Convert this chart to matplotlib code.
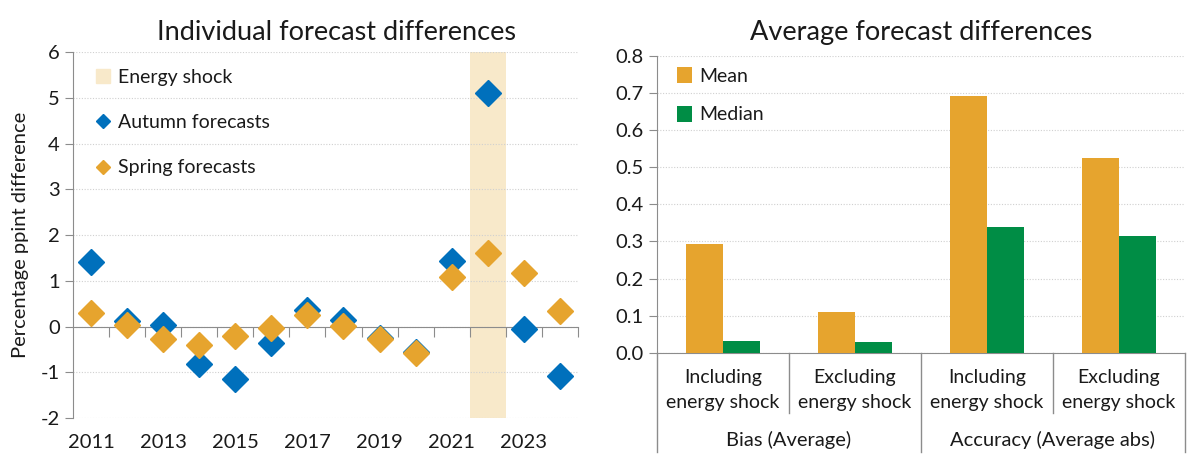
import numpy as np
import matplotlib
matplotlib.use("Agg")
import matplotlib.pyplot as plt
from matplotlib.patches import Patch
from matplotlib.lines import Line2D
from matplotlib.transforms import blended_transform_factory

plt.rcParams["font.family"] = ["Lato", "DejaVu Sans"]
plt.rcParams["axes.unicode_minus"] = False

# Left chart data
years = [2011, 2012, 2013, 2014, 2015, 2016, 2017, 2018, 2019, 2020, 2021, 2022, 2023, 2024]
autumn = [1.42, 0.12, 0.03, -0.82, -1.14, -0.36, 0.37, 0.15, -0.25, -0.55, 1.43, 5.10, -0.05, -1.08]
spring = [0.29, 0.03, -0.27, -0.41, -0.20, -0.02, 0.26, 0.02, -0.26, -0.57, 1.08, 1.62, 1.18, 0.34]
shock_year = 2022

# Right chart data
categories = ["Including\nenergy shock", "Excluding\nenergy shock",
              "Including\nenergy shock", "Excluding\nenergy shock"]
groups = ["Bias (Average)", "Accuracy (Average abs)"]
mean_vals = [0.293, 0.109, 0.693, 0.524]
median_vals = [0.031, 0.029, 0.339, 0.315]

BLUE = "#0070BC"
ORANGE = "#E6A42E"
GREEN = "#008D45"
SHADE = "#F8E9CA"
AXCOL = "#8C8C8C"
TXT = "#1a1a1a"

fig = plt.figure(figsize=(12, 4.66), dpi=100)

# ---------------- left panel ----------------
ax1 = fig.add_axes([0.0608, 0.1024, 0.4208, 0.786])
x = np.arange(len(years))
si = years.index(shock_year)
ax1.axvspan(si - 0.5, si + 0.5, color=SHADE, zorder=0, lw=0)
ax1.plot(x, autumn, ls="none", marker="D", ms=13, color=BLUE, zorder=3)
ax1.plot(x, spring, ls="none", marker="D", ms=13, color=ORANGE, zorder=4)

ax1.set_xlim(-0.5, len(years) - 0.5)
ax1.set_ylim(-2, 6)
ax1.set_yticks(range(-2, 7))
ax1.yaxis.grid(True, color="#d0d0d0", ls=(0, (1, 1.5)), lw=0.8)
ax1.set_axisbelow(True)
for s in ["top", "right"]:
    ax1.spines[s].set_visible(False)
ax1.spines["left"].set_color(AXCOL)
ax1.spines["bottom"].set_position(("data", 0))
ax1.spines["bottom"].set_color(AXCOL)
ax1.set_xticks(x + 0.5)
ax1.set_xticklabels([])
ax1.tick_params(axis="x", length=7, color=AXCOL, direction="out")
ax1.tick_params(axis="y", length=6, color=AXCOL, labelsize=14.5, labelcolor=TXT)
tr = blended_transform_factory(ax1.transData, ax1.transAxes)
for i in range(0, len(years), 2):
    ax1.text(x[i], -0.067, str(years[i]), transform=tr, ha="center", va="center",
             fontsize=14.5, color=TXT)
ax1.set_ylabel("Percentage ppint difference", fontsize=14.5, color=TXT)
ax1.yaxis.set_label_coords(-0.088, 0.5)

handles = [Patch(color=SHADE, label="Energy shock"),
           Line2D([], [], ls="none", marker="D", ms=7, color=BLUE, label="Autumn forecasts"),
           Line2D([], [], ls="none", marker="D", ms=7, color=ORANGE, label="Spring forecasts")]
ax1.legend(handles=handles, loc="upper left", bbox_to_anchor=(0.030, 0.975), borderaxespad=0,
           frameon=False, fontsize=14, labelspacing=1.45, handlelength=0.75,
           handletextpad=0.4, labelcolor=TXT)

fig.text(0.28, 0.931, "Individual forecast differences", ha="center", va="center",
         fontsize=19.5, color=TXT)

# ---------------- right panel ----------------
ax2 = fig.add_axes([0.5475, 0.2431, 0.44, 0.6367])
xc = np.arange(len(categories))
w = 0.284
ax2.bar(xc - w / 2, mean_vals, w, color=ORANGE, label="Mean", zorder=3)
ax2.bar(xc + w / 2, median_vals, w, color=GREEN, label="Median", zorder=3)
ax2.set_xlim(-0.5, len(categories) - 0.5)
ax2.set_ylim(0, 0.8)
ax2.set_yticks(np.arange(0, 0.81, 0.1))
ax2.set_yticklabels([f"{v:.1f}" for v in np.arange(0, 0.81, 0.1)])
ax2.yaxis.grid(True, color="#d0d0d0", ls=(0, (1, 1.5)), lw=0.8)
ax2.set_axisbelow(True)
for s in ["top", "right"]:
    ax2.spines[s].set_visible(False)
ax2.spines["left"].set_color(AXCOL)
ax2.spines["bottom"].set_color(AXCOL)
ax2.set_xticks([])
ax2.tick_params(axis="y", length=6, color=AXCOL, labelsize=14.5, labelcolor=TXT)

tr2 = blended_transform_factory(ax2.transData, ax2.transAxes)
for i, c in enumerate(categories):
    ax2.text(xc[i], -0.126, c, transform=tr2, ha="center", va="center", fontsize=14,
             color=TXT, linespacing=1.55)
# separators
for b in np.arange(-0.5, len(categories), 1.0):
    outer = (b + 0.5) % 2 == 0
    ax2.plot([b, b], [0, -0.335 if outer else -0.203], transform=tr2, color=AXCOL,
             lw=1, clip_on=False)
for g, name in enumerate(groups):
    ax2.text(2 * g + 0.5, -0.294, name, transform=tr2, ha="center", va="center",
             fontsize=14.5, color=TXT)

ax2.legend(loc="upper left", bbox_to_anchor=(0.023, 0.988), borderaxespad=0, frameon=False,
           fontsize=14, labelspacing=1.05, handlelength=0.75, handleheight=0.9,
           handletextpad=0.4, labelcolor=TXT)

fig.text(0.768, 0.931, "Average forecast differences", ha="center", va="center",
         fontsize=19.5, color=TXT)

fig.savefig("out.png", dpi=100)
